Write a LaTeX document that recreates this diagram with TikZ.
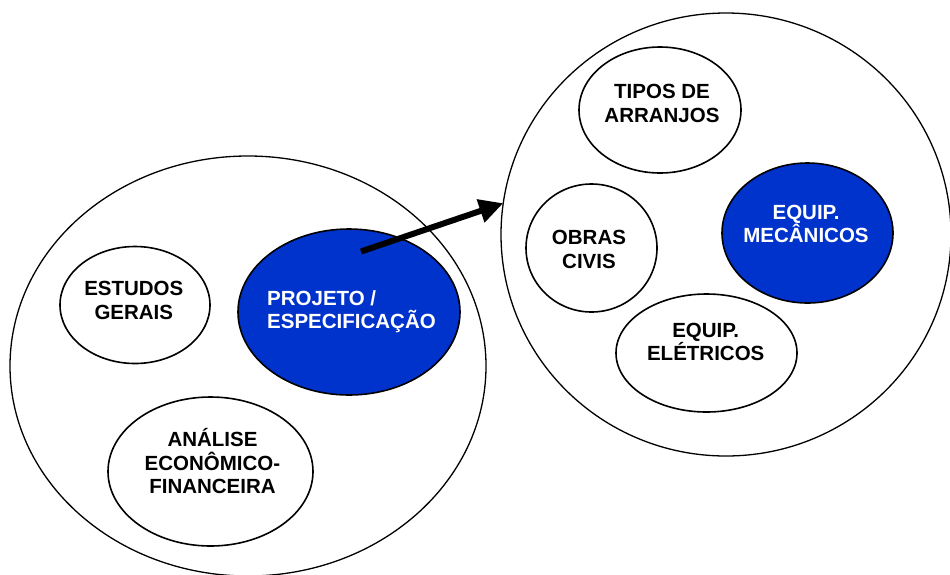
\documentclass[tikz,border=0pt]{standalone}
\usepackage{fontspec}
\setmainfont{Liberation Sans}
\usetikzlibrary{shapes.geometric,arrows.meta}
\definecolor{deepblue}{RGB}{0,51,204}
\tikzset{
  group/.style={draw=black, line width=1.3pt, ellipse, inner sep=0pt, outer sep=0pt},
  topic/.style={draw=black, line width=1.6pt, ellipse, inner sep=0pt, outer sep=0pt, fill=white},
  hot/.style={topic, fill=deepblue},
  caption/.style={font=\fontsize{20.5}{23.5}\selectfont\bfseries, align=center, inner sep=0pt},
  flow/.style={line width=6pt, -{Triangle[length=24pt,width=23pt]}}
}
\begin{document}
\begin{tikzpicture}[x=1pt,y=-1pt]
  \useasboundingbox (0,0) rectangle (950,574);
  \clip (0,0) rectangle (950,574);

  % outer groups
  \node[group, minimum width=476pt, minimum height=420pt] (left) at (248,366) {};
  \node[group, minimum width=450pt, minimum height=443pt] (right) at (726,234.5) {};

  % left group
  \node[topic, minimum width=150pt, minimum height=117pt] (estudos) at (135,305) {};
  \node[hot, minimum width=222pt, minimum height=166pt] (projeto) at (349,312) {};
  \node[topic, minimum width=205pt, minimum height=149pt] (analise) at (210.5,471.5) {};

  \node[caption] (estudosT) at (133.8,300.5) {ESTUDOS\\GERAIS};
  \node[caption, align=left, anchor=west, text=white] (projetoT) at (267,311.5) {PROJETO /\\ESPECIFICAÇÃO};
  \node[caption] (analiseT) at (212.5,461.5) {ANÁLISE\\ECONÔMICO-\\FINANCEIRA};

  % right group
  \node[topic, minimum width=162pt, minimum height=126pt] (tipos) at (660,110) {};
  \node[topic, minimum width=131pt, minimum height=128pt] (obras) at (591.5,248) {};
  \node[hot, minimum width=171pt, minimum height=140pt] (mecanicos) at (807.5,233) {};
  \node[topic, minimum width=181pt, minimum height=118pt] (eletricos) at (706.5,353) {};

  \node[caption] (tiposT) at (662,103.5) {TIPOS DE\\ARRANJOS};
  \node[caption] (obrasT) at (589,249.5) {OBRAS\\CIVIS};
  \node[caption, text=white] (mecanicosT) at (806,224) {EQUIP.\\MECÂNICOS};
  \node[caption] (eletricosT) at (705.7,342) {EQUIP.\\ELÉTRICOS};

  % link from the design stage to the equipment group
  \coordinate (start) at (361,251.5);
  \draw[flow] (start) -- (right.172.3);
\end{tikzpicture}
\end{document}
